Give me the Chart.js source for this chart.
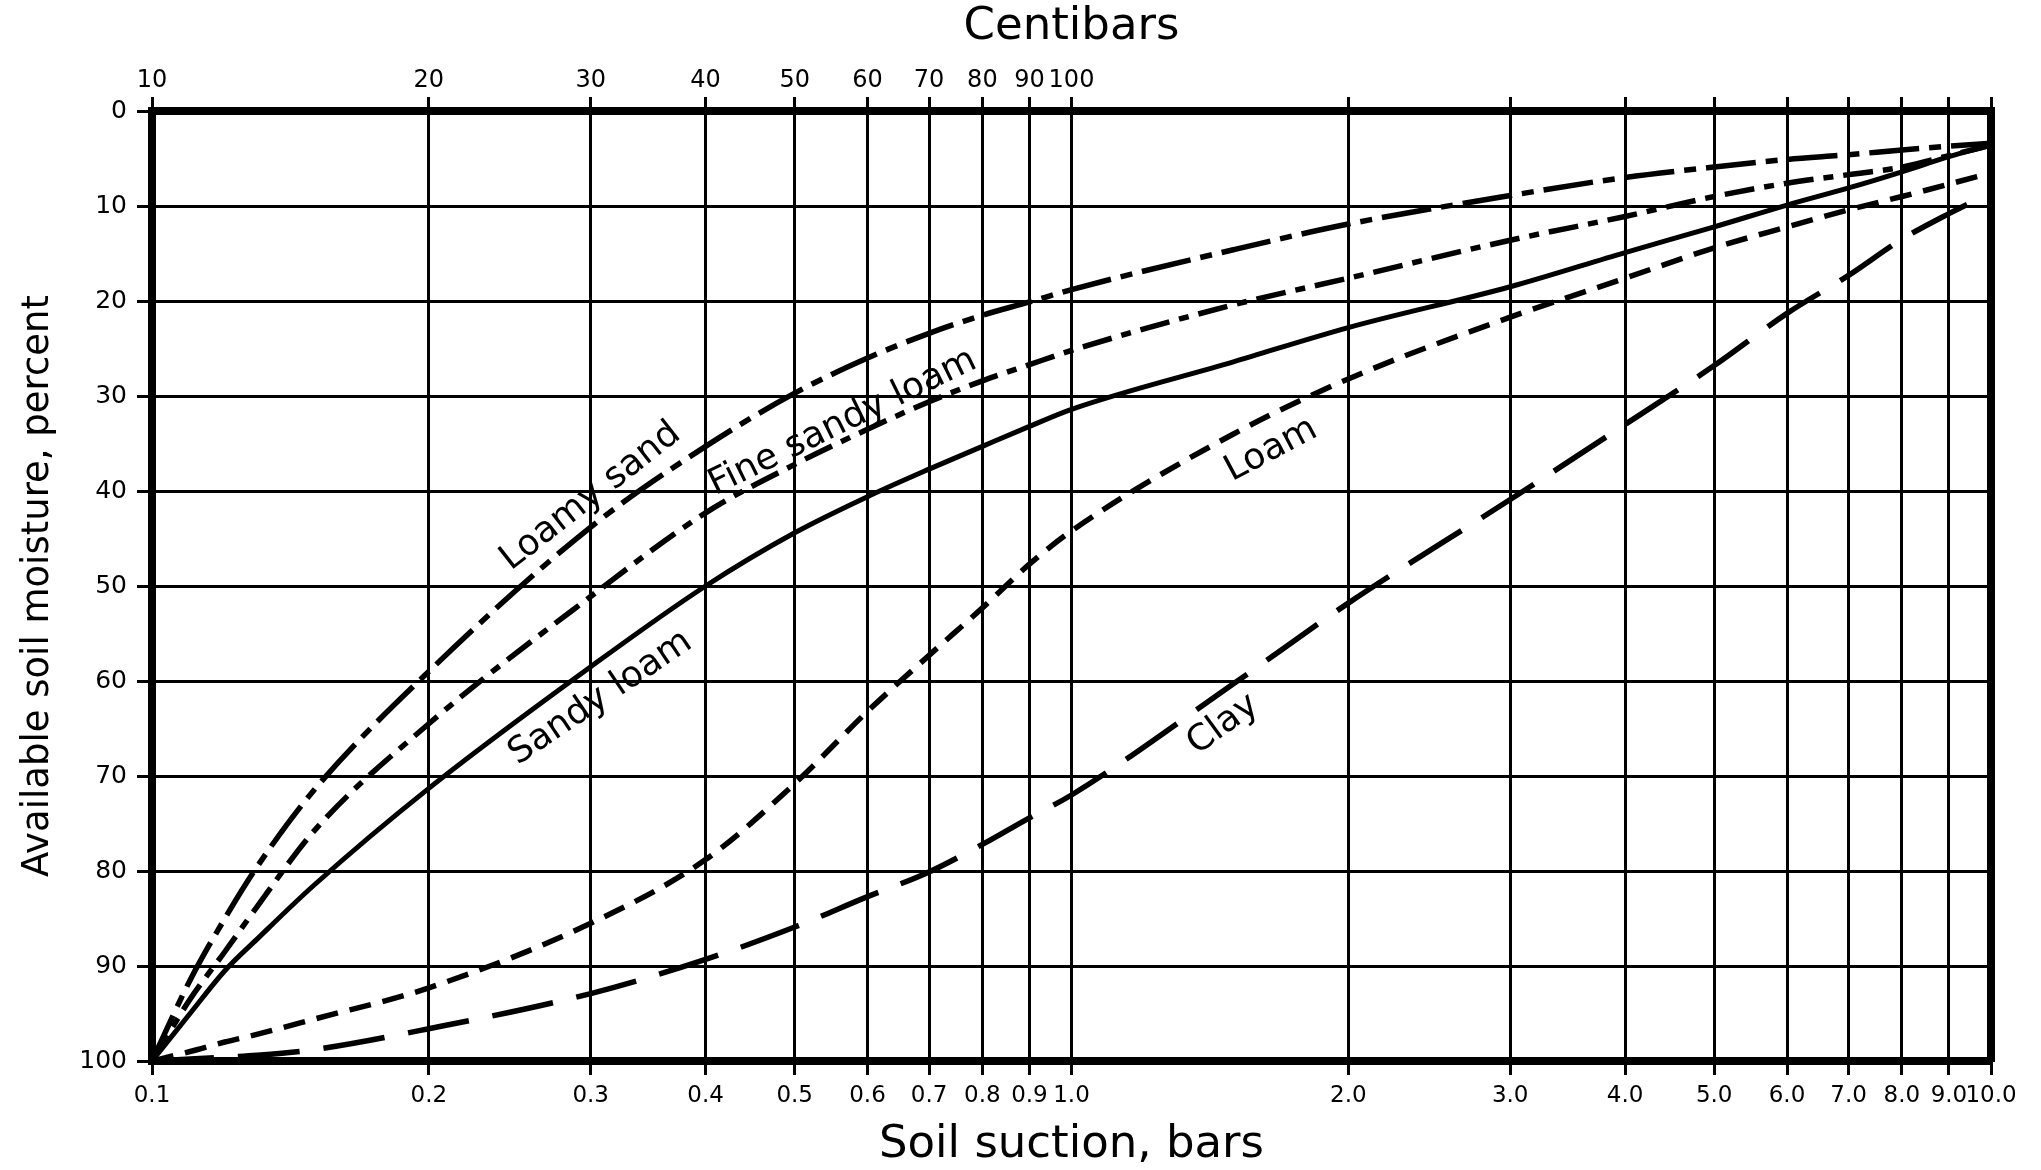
<!DOCTYPE html>
<html>
<head>
<meta charset="utf-8">
<title>Soil moisture vs suction</title>
<script src="https://cdn.jsdelivr.net/npm/chart.js@4.4.1/dist/chart.umd.min.js"></script>
<style>
  html, body { margin: 0; padding: 0; background: #fff; }
  canvas { display: block; }
</style>
</head>
<body>
<canvas id="soilChart" width="2041" height="1170"></canvas>
<script>
// suction in bars, shared by every curve
const suction = [0.1, 0.11, 0.12, 0.13, 0.15, 0.2, 0.3, 0.4, 0.5, 0.6, 0.7, 0.8, 0.9, 1.0, 1.5, 2, 3, 4, 5, 6, 7, 8, 9, 10];

// available soil moisture, percent
const loamySand     = [100, 91.5, 85, 79.6, 71.5, 59, 43.8, 35.3, 29.7, 26.0, 23.4, 21.5, 20.1, 18.8, 14.6, 11.9, 8.9, 7.0, 5.9, 5.1, 4.6, 4.1, 3.7, 3.4];
const fineSandyLoam = [100, 93.5, 88.5, 83.8, 75.8, 64.5, 51.1, 42.3, 37.2, 33.5, 30.6, 28.4, 26.7, 25.2, 20.4, 17.6, 13.6, 11.1, 9.0, 7.6, 6.7, 5.9, 4.7, 3.6];
const sandyLoam     = [100, 95, 90.5, 87.2, 81.5, 71.3, 58.5, 50, 44.4, 40.6, 37.7, 35.3, 33.2, 31.4, 26.4, 22.8, 18.5, 14.9, 12.2, 9.9, 8.1, 6.4, 4.8, 3.6];
const loam          = [100, 99, 98, 97.2, 95.6, 92.3, 85.5, 78.8, 70.8, 63.2, 57.3, 52.3, 47.7, 44.2, 34, 28.2, 21.7, 17.6, 14.4, 12.2, 10.4, 9, 7.7, 6.5];
const clay          = [100, 99.8, 99.6, 99.4, 98.8, 96.6, 92.9, 89.3, 85.9, 82.7, 80.1, 77.2, 74.4, 72, 60.3, 51.8, 40.9, 33, 26.8, 21.3, 17.3, 13.5, 10.8, 8.6];

// tick values
const barTicks = [0.1, 0.2, 0.3, 0.4, 0.5, 0.6, 0.7, 0.8, 0.9, 1, 2, 3, 4, 5, 6, 7, 8, 9, 10];
const moistureTicks = [0, 10, 20, 30, 40, 50, 60, 70, 80, 90, 100];

// curve names written on the chart
const curveNames = ['Loamy sand', 'Fine sandy loam', 'Sandy loam', 'Loam', 'Clay'];
const nameAtBars = [0.30, 0.564, 0.3075, 1.649, 1.462];
const nameAtMoisture = [40.6, 32.8, 61.8, 35.7, 64.6];
const nameAngle = [38, 26, 34, 28, 36];

const FONT = 'DejaVu Sans';

function points(values) {
    return suction.map((s, i) => ({ x: s, y: values[i] }));
}

function curve(label, values, dash, width) {
    return {
        label: label,
        data: points(values),
        borderColor: '#000',
        borderWidth: width,
        borderDash: dash,
        pointRadius: 0,
        fill: false,
        cubicInterpolationMode: 'monotone'
    };
}

function setTicks(list) {
    return function(axis) {
        axis.ticks = list.map(v => ({ value: v }));
    };
}

const curveNamesPlugin = {
    id: 'curveNames',
    afterDatasetsDraw(chart) {
        const ctx = chart.ctx;
        const xs = chart.scales.x;
        const ys = chart.scales.y;
        ctx.save();
        ctx.fillStyle = '#000';
        ctx.font = '36px "' + FONT + '"';
        ctx.textAlign = 'center';
        ctx.textBaseline = 'middle';
        curveNames.forEach((name, i) => {
            const px = xs.getPixelForValue(nameAtBars[i]);
            const py = ys.getPixelForValue(nameAtMoisture[i]);
            ctx.save();
            ctx.translate(px, py);
            ctx.rotate(-nameAngle[i] * Math.PI / 180);
            ctx.fillText(name, 0, 0);
            ctx.restore();
        });
        ctx.restore();
    }
};

const ctx = document.getElementById('soilChart').getContext('2d');
const soilChart = new Chart(ctx, {
    type: 'line',
    data: {
        datasets: [
            curve('Loamy sand', loamySand, [50, 10, 12, 10], 5.5),
            curve('Fine sandy loam', fineSandyLoam, [30, 10, 10, 10], 5.5),
            curve('Sandy loam', sandyLoam, [], 5),
            curve('Loam', loam, [22, 12], 5.5),
            curve('Clay', clay, [62, 24], 5.5)
        ]
    },
    options: {
        responsive: false,
        animation: false,
        devicePixelRatio: 1,
        layout: { padding: 0 },
        plugins: {
            legend: { display: false },
            tooltip: { enabled: false }
        },
        scales: {
            x: {
                type: 'logarithmic',
                position: 'bottom',
                min: 0.1,
                max: 10,
                afterBuildTicks: setTicks(barTicks),
                afterFit: function(scale) { scale.height = 109; },
                ticks: {
                    autoSkip: false,
                    maxRotation: 0,
                    color: '#000',
                    padding: 7,
                    font: { family: FONT, size: 23 },
                    callback: function(value) { return Number(value).toFixed(1); }
                },
                grid: { color: '#000', lineWidth: 3, tickLength: 14 },
                border: { color: '#000', width: 8 },
                title: {
                    display: true,
                    text: 'Soil suction, bars',
                    color: '#000',
                    font: { family: FONT, size: 45, lineHeight: 1 },
                    padding: { top: 0, bottom: 2 }
                }
            },
            xTop: {
                type: 'logarithmic',
                position: 'top',
                min: 0.1,
                max: 10,
                afterBuildTicks: setTicks(barTicks),
                afterFit: function(scale) { scale.height = 111; },
                ticks: {
                    autoSkip: false,
                    maxRotation: 0,
                    color: '#000',
                    padding: 2,
                    font: { family: FONT, size: 24 },
                    callback: function(value) {
                        return value <= 1.0001 ? String(Math.round(value * 100)) : '';
                    }
                },
                grid: { color: '#000', lineWidth: 3, tickLength: 14, drawOnChartArea: false },
                border: { color: '#000', width: 8 },
                title: {
                    display: true,
                    text: 'Centibars',
                    color: '#000',
                    font: { family: FONT, size: 45, lineHeight: 1 },
                    padding: { top: 5, bottom: 0 }
                }
            },
            y: {
                type: 'linear',
                position: 'left',
                reverse: true,
                min: 0,
                max: 100,
                afterBuildTicks: setTicks(moistureTicks),
                afterFit: function(scale) { scale.width = 152; },
                ticks: {
                    color: '#000',
                    padding: 10,
                    font: { family: FONT, size: 25 }
                },
                grid: { color: '#000', lineWidth: 3, tickLength: 15 },
                border: { color: '#000', width: 8 },
                title: {
                    display: true,
                    text: 'Available soil moisture, percent',
                    color: '#000',
                    font: { family: FONT, size: 37, lineHeight: 1 },
                    padding: { top: 20, bottom: 0 }
                }
            },
            yRight: {
                type: 'linear',
                position: 'right',
                min: 0,
                max: 100,
                afterFit: function(scale) { scale.width = 50; },
                ticks: { display: false },
                grid: { drawOnChartArea: false, drawTicks: false },
                border: { color: '#000', width: 8 }
            }
        }
    },
    plugins: [curveNamesPlugin]
});
</script>
</body>
</html>
